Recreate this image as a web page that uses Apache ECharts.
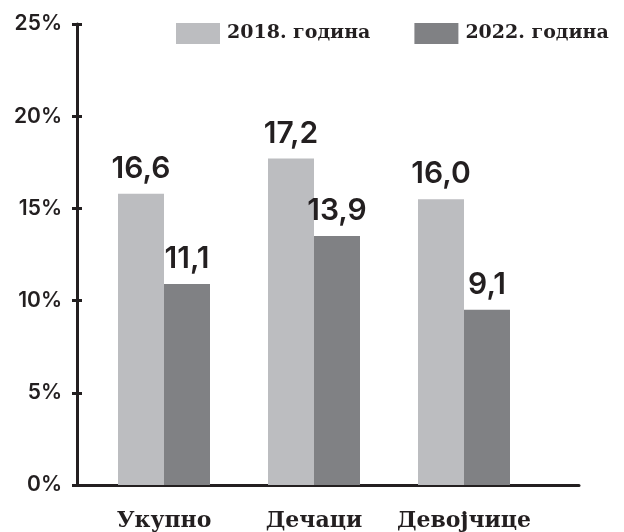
<!DOCTYPE html>
<html>
<head>
<meta charset="utf-8">
<script src="https://cdn.jsdelivr.net/npm/echarts@6/dist/echarts.min.js"></script>
<style>
  html, body { margin: 0; padding: 0; background: #fff; }
  #chart { width: 624px; height: 532px; }
</style>
</head>
<body>
<div id="chart"></div>
<script>
// категорије и вредности (висине стубова очитане са слике, натписи као на слици)
const categories = ['Укупно', 'Дечаци', 'Девојчице'];
const seriesNames = ['2018. година', '2022. година'];
const values2018 = [15.8, 17.7, 15.5];
const values2022 = [10.9, 13.5, 9.5];
const labels2018 = ['16,6', '17,2', '16,0'];
const labels2022 = ['11,1', '13,9', '9,1'];

const ink = '#231f20';
const chart = echarts.init(document.getElementById('chart'));

const valueLabel = (texts) => ({
  show: true,
  position: 'top',
  distance: 10,
  color: ink,
  fontFamily: 'Inter',
  fontWeight: 600,
  fontSize: 30,
  formatter: (p) => texts[p.dataIndex]
});

const option = {
  animation: false,
  legend: {
    left: 171,
    top: 18,
    itemWidth: 44,
    itemHeight: 21,
    itemGap: 44,
    icon: 'rect',
    data: seriesNames,
    textStyle: {
      color: ink,
      fontFamily: 'DejaVu Serif',
      fontWeight: 'bold',
      fontSize: 19,
      padding: [0, 0, 0, 2]
    }
  },
  grid: [
    { left: 89, right: 85, top: 24, bottom: 47 },
    { left: 77, right: 45, top: 24, bottom: 47 }
  ],
  xAxis: [{
    type: 'category',
    gridIndex: 0,
    data: categories,
    axisLine: { show: false },
    axisTick: { show: false },
    axisLabel: {
      interval: 0,
      color: ink,
      margin: 25,
      fontFamily: 'DejaVu Serif',
      fontWeight: 'bold',
      fontSize: 22
    }
  }, {
    type: 'category',
    gridIndex: 1,
    data: categories,
    axisLine: { show: true, lineStyle: { color: ink, width: 3 } },
    axisTick: { show: false },
    axisLabel: { show: false }
  }],
  yAxis: [{
    type: 'value',
    gridIndex: 0,
    min: 0,
    max: 25,
    interval: 5,
    offset: 12,
    axisLine: { show: false },
    axisTick: { show: true, inside: true, length: 5, lineStyle: { color: ink, width: 3 } },
    axisLabel: { show: false },
    splitLine: { show: false }
  }, {
    type: 'value',
    gridIndex: 1,
    min: 0,
    max: 25,
    interval: 5,
    axisLine: { show: true, lineStyle: { color: ink, width: 3 } },
    axisTick: { show: true, length: 5, lineStyle: { color: ink, width: 3 } },
    axisLabel: {
      formatter: '{value}%',
      color: ink,
      margin: 15,
      fontFamily: 'Inter',
      fontWeight: 600,
      fontSize: 21
    },
    splitLine: { show: false }
  }],
  series: [{
    name: seriesNames[0],
    type: 'bar',
    xAxisIndex: 0,
    yAxisIndex: 0,
    barWidth: 46,
    barGap: '0%',
    data: values2018,
    itemStyle: { color: '#bcbdc0' },
    label: valueLabel(labels2018)
  }, {
    name: seriesNames[1],
    type: 'bar',
    xAxisIndex: 0,
    yAxisIndex: 0,
    barWidth: 46,
    barGap: '0%',
    data: values2022,
    itemStyle: { color: '#808184' },
    label: valueLabel(labels2022)
  }]
};

chart.setOption(option);
</script>
</body>
</html>
